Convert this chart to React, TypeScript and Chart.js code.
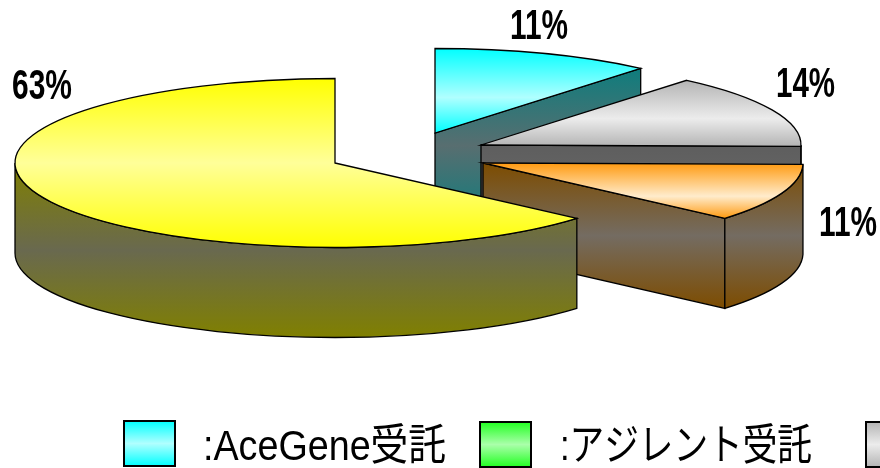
import { useEffect, useRef } from "react";
import { Chart, registerables } from "chart.js";

Chart.register(...registerables);

// Contract shares, in the order they run clockwise from twelve o'clock.
const categories = ["AceGene受託", "アジレント受託", "", "", ""];
const shares = [11, 0, 14, 11, 63];

// Gradient stops per slice: rim and centre of the top face, rim and centre of the side walls.
const faceRim = ["#00ffff", "#22ff22", "#b4b4b4", "#ff9a10", "#ffff00"];
const faceMid = ["#b0ffff", "#aaffaa", "#ececec", "#ffeccc", "#ffff99"];
const faceMidAt = [0.58, 0.5, 0.58, 0.6, 0.5];
const wallRim = ["#0e7d7d", "#0e7d0e", "#5e5e5e", "#7d4c00", "#808000"];
const wallMid = ["#586e70", "#586e58", "#666666", "#746c62", "#69694f"];

// How far each slice is pulled out of the pie, in pixels.
const pullX = [100, 0, 146, 148, 0];
const pullY = [-30, 0, -18, 0, 0];

const RADIUS = 320;
const SQUASH = 0.264;
const DEPTH = 90;
const OUTLINE = 1.3;
const FONT = '"Liberation Sans", Arial, sans-serif';

// Value labels: left edge, baseline and fitted width per slice.
const labelLeft = [510, 0, 776, 819, 12];
const labelBase = [39, 0, 97, 236, 99];
const labelWidth = [58, 0, 59, 58, 60];

// Legend strip: swatch edges and fitted text extents.
const swatchLeft = [124, 480, 866];
const swatchTop = [421, 422, 422];
const textLeft = [203, 560];
const textWidth = [243, 252];
const SWATCH_W = 51;
const SWATCH_H = 45;
const LEGEND_BASE = 460;

const threeStop = (
  ctx: CanvasRenderingContext2D,
  y0: number,
  y1: number,
  rim: string,
  mid: string,
  at = 0.5
) => {
  const g = ctx.createLinearGradient(0, y0, 0, y1);
  g.addColorStop(0, rim);
  g.addColorStop(at, mid);
  g.addColorStop(1, rim);
  return g;
};

const fittedText = (
  ctx: CanvasRenderingContext2D,
  text: string,
  x: number,
  base: number,
  width: number
) => {
  ctx.save();
  ctx.translate(x, base);
  ctx.scale(width / ctx.measureText(text).width, 1);
  ctx.textAlign = "left";
  ctx.textBaseline = "alphabetic";
  ctx.fillText(text, 0, 0);
  ctx.restore();
};

const drawWalls = (ctx: CanvasRenderingContext2D, i: number, arc: any) => {
  const cx = arc.x + pullX[i];
  const cy = arc.y + pullY[i];
  const r = arc.outerRadius;
  const ry = r * SQUASH;
  const a0 = arc.startAngle;
  const a1 = arc.endAngle;
  const ptX = (a: number) => cx + r * Math.cos(a);
  const ptY = (a: number) => cy + ry * Math.sin(a);

  // The curved wall faces the viewer only where the rim runs through the lower half.
  const from = Math.max(a0, 0);
  const to = Math.min(a1, Math.PI);
  const hasRim = to > from;
  const showStartCut = Math.cos(a0) < -1e-6;
  const showEndCut = Math.cos(a1) > 1e-6;

  const ys = [cy];
  if (showStartCut) ys.push(ptY(a0));
  if (showEndCut) ys.push(ptY(a1));
  if (hasRim) {
    ys.push(ptY(from), ptY(to));
    if (from < Math.PI / 2 && to > Math.PI / 2) ys.push(cy + ry);
  }
  const top = Math.min(...ys);
  const bottom = Math.max(...ys) + DEPTH;
  ctx.fillStyle = threeStop(ctx, top, bottom, wallRim[i], wallMid[i]);
  ctx.strokeStyle = "#000";
  ctx.lineWidth = OUTLINE;

  const cut = (a: number) => {
    ctx.beginPath();
    ctx.moveTo(cx, cy);
    ctx.lineTo(ptX(a), ptY(a));
    ctx.lineTo(ptX(a), ptY(a) + DEPTH);
    ctx.lineTo(cx, cy + DEPTH);
    ctx.closePath();
    ctx.fill();
    ctx.stroke();
  };
  if (showStartCut) cut(a0);
  if (showEndCut) cut(a1);

  if (hasRim) {
    ctx.beginPath();
    ctx.ellipse(cx, cy, r, ry, 0, from, to);
    ctx.ellipse(cx, cy + DEPTH, r, ry, 0, to, from, true);
    ctx.closePath();
    ctx.fill();
    ctx.stroke();
  }
};

const drawTop = (ctx: CanvasRenderingContext2D, i: number, arc: any) => {
  const cx = arc.x + pullX[i];
  const cy = arc.y + pullY[i];
  const r = arc.outerRadius;
  const a0 = arc.startAngle;
  const a1 = arc.endAngle;

  // Vertical extent of the slice in the un-squashed circle, for its gradient.
  const sines = [0, Math.sin(a0), Math.sin(a1)];
  for (let k = -3; k <= 3; k++) {
    const q = Math.PI / 2 + k * Math.PI;
    if (q > a0 && q < a1) sines.push(Math.sin(q));
  }
  const y0 = arc.y + r * Math.min(...sines);
  const y1 = arc.y + r * Math.max(...sines);

  ctx.save();
  ctx.translate(cx, cy);
  ctx.scale(1, SQUASH);
  ctx.translate(-arc.x, -arc.y);
  arc.options = {
    ...arc.options,
    backgroundColor: threeStop(ctx, y0, y1, faceRim[i], faceMid[i], faceMidAt[i]),
    borderWidth: 0,
  };
  arc.draw(ctx);
  ctx.restore();

  ctx.beginPath();
  ctx.moveTo(cx, cy);
  ctx.ellipse(cx, cy, r, r * SQUASH, 0, a0, a1);
  ctx.closePath();
  ctx.strokeStyle = "#000";
  ctx.lineWidth = OUTLINE;
  ctx.stroke();
};

// Replaces the flat arcs with extruded, separated slices; the library's arc elements give the angles.
const extrudedPie = {
  id: "extrudedPie",
  beforeDatasetsDraw(chart: any) {
    const ctx: CanvasRenderingContext2D = chart.ctx;
    const arcs = chart.getDatasetMeta(0).data;
    arcs.forEach((arc: any, i: number) => {
      if (shares[i] === 0) return;
      drawWalls(ctx, i, arc);
      drawTop(ctx, i, arc);
    });
    return false;
  },
  afterDraw(chart: any) {
    const ctx: CanvasRenderingContext2D = chart.ctx;
    const values: number[] = chart.data.datasets[0].data;

    ctx.save();
    ctx.fillStyle = "#000";
    ctx.font = `bold 42px ${FONT}`;
    values.forEach((v, i) => {
      if (v > 0) fittedText(ctx, `${v}%`, labelLeft[i], labelBase[i], labelWidth[i]);
    });

    ctx.font = `43px ${FONT}, "Noto Sans CJK JP"`;
    swatchLeft.forEach((x, i) => {
      const y = swatchTop[i];
      ctx.fillStyle = threeStop(ctx, y, y + SWATCH_H, faceRim[i], faceMid[i]);
      ctx.fillRect(x, y, SWATCH_W, SWATCH_H);
      ctx.strokeStyle = "#000";
      ctx.lineWidth = 2;
      ctx.strokeRect(x, y, SWATCH_W, SWATCH_H);
      if (chart.data.labels[i]) {
        ctx.fillStyle = "#000";
        fittedText(ctx, `:${chart.data.labels[i]}`, textLeft[i], LEGEND_BASE, textWidth[i]);
      }
    });
    ctx.restore();
  },
};

export default function App() {
  const canvasRef = useRef<HTMLCanvasElement | null>(null);

  useEffect(() => {
    document.body.style.margin = "0";
    const chart = new Chart(canvasRef.current as HTMLCanvasElement, {
      type: "pie",
      data: {
        labels: categories,
        datasets: [{ data: shares, backgroundColor: faceRim, radius: RADIUS, borderWidth: 0 }],
      },
      options: {
        animation: false,
        responsive: false,
        layout: { padding: { right: 210, bottom: 142 } },
        plugins: { legend: { display: false }, tooltip: { enabled: false } },
      },
      plugins: [extrudedPie],
    } as any);
    return () => chart.destroy();
  }, []);

  return <canvas ref={canvasRef} width={880} height={468} style={{ display: "block" }} />;
}
